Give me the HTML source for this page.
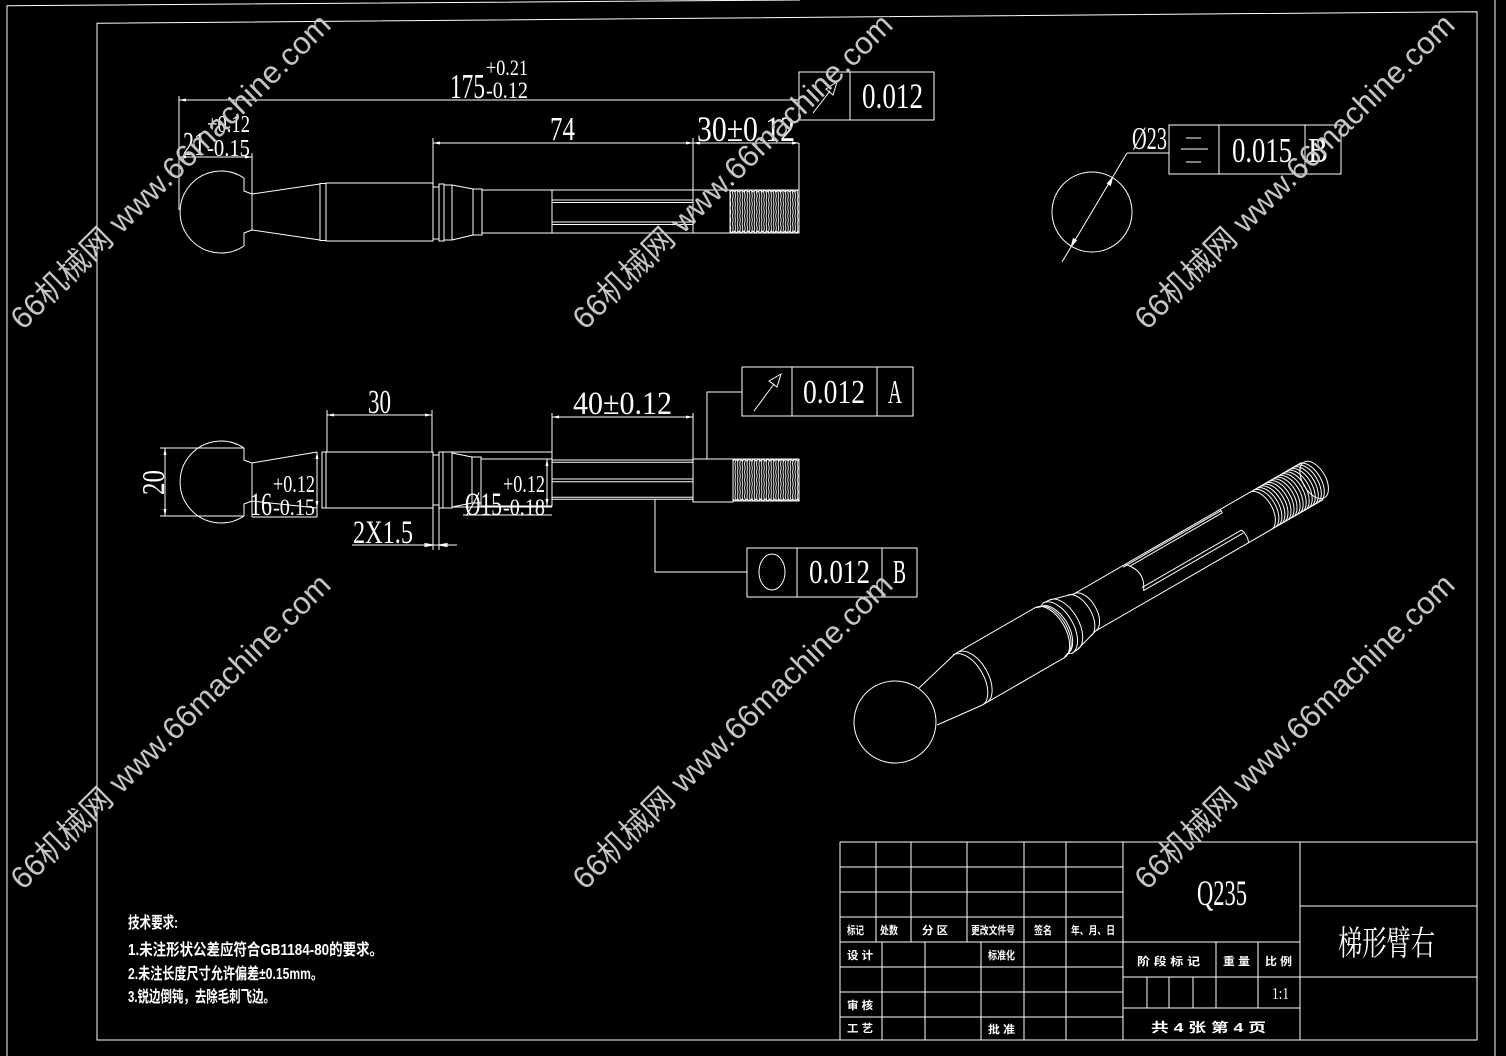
<!DOCTYPE html>
<html><head><meta charset="utf-8">
<style>
html,body{margin:0;padding:0;background:#000;}
svg{display:block;}
.t{fill:#fff;font-family:"Liberation Serif","Noto Serif CJK SC",serif;}
.c{fill:#fff;font-family:"Liberation Sans","Noto Sans CJK SC",sans-serif;font-weight:bold;}
.w{fill:#c4c4c4;font-family:"Liberation Sans","Noto Sans CJK SC",sans-serif;}
</style></head><body>
<svg width="1506" height="1056" viewBox="0 0 1506 1056" xmlns="http://www.w3.org/2000/svg">
<defs>
<marker id="ar" markerWidth="9" markerHeight="5" refX="7" refY="2.5" orient="auto-start-reverse" markerUnits="userSpaceOnUse"><path d="M0,1 L7,2.5 L0,4 z" fill="#fff"/></marker>
<pattern id="th" width="2.4" height="8" patternUnits="userSpaceOnUse"><path d="M0.5,0 L1.2,4 L0.5,8" stroke="#fff" stroke-width="0.9" fill="none"/></pattern>
</defs>
<rect width="1506" height="1056" fill="#000"/>
<g stroke="#fff" stroke-width="1" fill="none">
<polyline points="7,1056 7,5.7 800,0"/>
<line x1="1495" y1="0" x2="1495" y2="1056"/>
<polygon points="97,23.3 1477,11.7 1477,1040 97,1040"/>

<line x1="179" y1="100" x2="799" y2="100" marker-start="url(#ar)" marker-end="url(#ar)"/>
<line x1="179" y1="96" x2="179" y2="210"/>
<line x1="179" y1="157" x2="252" y2="157" marker-start="url(#ar)" marker-end="url(#ar)"/>
<line x1="252" y1="153" x2="252" y2="194"/>
<line x1="433" y1="143" x2="693" y2="143" marker-start="url(#ar)" marker-end="url(#ar)"/>
<line x1="693" y1="143" x2="799" y2="143" marker-start="url(#ar)" marker-end="url(#ar)"/>
<line x1="433" y1="138" x2="433" y2="183"/>
<line x1="693" y1="138" x2="693" y2="233"/>
<line x1="799" y1="143" x2="799" y2="190"/>
<rect x="799" y="72" width="135" height="48"/>
<line x1="850" y1="72" x2="850" y2="120"/>
<line x1="813" y1="113" x2="830" y2="91"/>
<path d="M837,82 L826,89 L833,95 z"/>
<path d="M244,178 A41,41 0 1,0 244,246"/>
<path d="M244,178 L244,191 L252,194 L252,230 L244,233 L244,246"/>
<line x1="252" y1="194" x2="320" y2="184"/>
<line x1="252" y1="230" x2="320" y2="240"/>
<rect x="320" y="183.5" width="6" height="57"/>
<rect x="326" y="183" width="107" height="58"/>
<rect x="433" y="187" width="6" height="52"/>
<rect x="439" y="184" width="5" height="57"/>
<rect x="444" y="185" width="8" height="55"/>
<line x1="452" y1="185" x2="473" y2="189"/>
<line x1="452" y1="240" x2="473" y2="235"/>
<rect x="473" y="189" width="9" height="46"/>
<line x1="482" y1="190" x2="730" y2="190"/>
<line x1="482" y1="233" x2="730" y2="233"/>
<line x1="482" y1="190" x2="482" y2="233"/>
<line x1="552" y1="190" x2="552" y2="233"/>
<line x1="552" y1="200" x2="693" y2="200"/>
<line x1="552" y1="202.5" x2="693" y2="202.5"/>
<line x1="552" y1="222" x2="693" y2="222"/>
<line x1="552" y1="224.5" x2="693" y2="224.5"/>
<rect x="730" y="190" width="69" height="43" fill="url(#th)"/>
<path d="M730,192 l2.3,-2 l2.3,2 l2.3,-2 l2.3,2 l2.3,-2 l2.3,2 l2.3,-2 l2.3,2 l2.3,-2 l2.3,2 l2.3,-2 l2.3,2 l2.3,-2 l2.3,2 l2.3,-2 l2.3,2 l2.3,-2 l2.3,2 l2.3,-2 l2.3,2 l2.3,-2 l2.3,2 l2.3,-2 l2.3,2 l2.3,-2 l2.3,2 l2.3,-2 l2.3,2 l2.3,-2"/>
<path d="M730,231 l2.3,2 l2.3,-2 l2.3,2 l2.3,-2 l2.3,2 l2.3,-2 l2.3,2 l2.3,-2 l2.3,2 l2.3,-2 l2.3,2 l2.3,-2 l2.3,2 l2.3,-2 l2.3,2 l2.3,-2 l2.3,2 l2.3,-2 l2.3,2 l2.3,-2 l2.3,2 l2.3,-2 l2.3,2 l2.3,-2 l2.3,2 l2.3,-2 l2.3,2 l2.3,-2 l2.3,2 l2.3,-2"/>

<circle cx="1092" cy="212" r="40"/>
<line x1="1062" y1="262" x2="1127" y2="153"/>
<line x1="1127" y1="153" x2="1169" y2="153"/>
<path d="M1112.4,177.6 L1107.5,183.5 L1110.5,185.3 z" fill="#fff"/>
<path d="M1071.4,246.3 L1076.3,240.4 L1073.3,238.6 z" fill="#fff"/>
<rect x="1169" y="125" width="172" height="49"/>
<line x1="1219" y1="125" x2="1219" y2="174"/>
<line x1="1305" y1="125" x2="1305" y2="174"/>
<line x1="1186" y1="138" x2="1201" y2="138"/>
<line x1="1181" y1="149" x2="1208" y2="149"/>
<line x1="1186" y1="162" x2="1201" y2="162"/>

<path d="M244,448 A41,41 0 1,0 244,516"/>
<path d="M244,448 L244,460 L252,463 L252,517"/>
<path d="M244,516 L244,504 L252,501"/>
<line x1="160" y1="448" x2="244" y2="448"/>
<line x1="160" y1="516" x2="244" y2="516"/>
<line x1="165" y1="448" x2="165" y2="516" marker-start="url(#ar)" marker-end="url(#ar)"/>
<line x1="252" y1="463" x2="317" y2="452"/>
<line x1="252" y1="501" x2="317" y2="508"/>
<line x1="317" y1="452" x2="317" y2="508" marker-start="url(#ar)" marker-end="url(#ar)"/>
<line x1="317" y1="508" x2="317" y2="517"/>
<line x1="252" y1="517" x2="317" y2="517"/>
<rect x="322" y="452" width="4" height="56"/>
<rect x="326" y="452" width="107" height="56"/>
<line x1="327" y1="415" x2="432" y2="415" marker-start="url(#ar)" marker-end="url(#ar)"/>
<line x1="327" y1="410" x2="327" y2="452"/>
<line x1="432" y1="410" x2="432" y2="452"/>
<rect x="433" y="455" width="6" height="50"/>
<rect x="439" y="452" width="4" height="56"/>
<rect x="443" y="452" width="9" height="56"/>
<line x1="452" y1="452" x2="552" y2="452"/>
<line x1="452" y1="507" x2="552" y2="507"/>
<line x1="452" y1="453" x2="472" y2="457"/>
<line x1="452" y1="507" x2="472" y2="503"/>
<rect x="472" y="457" width="9" height="46"/>
<rect x="481" y="459" width="71" height="47"/>
<line x1="547" y1="459" x2="547" y2="506" marker-start="url(#ar)" marker-end="url(#ar)"/>
<line x1="463" y1="515" x2="552" y2="515"/>
<line x1="433" y1="505" x2="433" y2="550"/>
<line x1="439" y1="505" x2="439" y2="550"/>
<line x1="352" y1="545" x2="457" y2="545"/>
<path d="M433,545 L425,543.5 L425,546.5 z" fill="#fff"/>
<path d="M439,545 L447,543.5 L447,546.5 z" fill="#fff"/>
<line x1="552" y1="413" x2="552" y2="459"/>
<line x1="693" y1="413" x2="693" y2="459"/>
<line x1="552" y1="417" x2="693" y2="417" marker-start="url(#ar)" marker-end="url(#ar)"/>
<line x1="552" y1="460" x2="693" y2="460"/>
<line x1="552" y1="462.3" x2="693" y2="462.3"/>
<line x1="552" y1="479" x2="693" y2="479"/>
<line x1="552" y1="481.7" x2="693" y2="481.7"/>
<line x1="552" y1="497.3" x2="693" y2="497.3"/>
<line x1="552" y1="499.3" x2="693" y2="499.3"/>
<rect x="693" y="459" width="40" height="43"/>
<rect x="733" y="459" width="66" height="42" fill="url(#th)"/>
<path d="M733,461 l2.3,-2 l2.3,2 l2.3,-2 l2.3,2 l2.3,-2 l2.3,2 l2.3,-2 l2.3,2 l2.3,-2 l2.3,2 l2.3,-2 l2.3,2 l2.3,-2 l2.3,2 l2.3,-2 l2.3,2 l2.3,-2 l2.3,2 l2.3,-2 l2.3,2 l2.3,-2 l2.3,2 l2.3,-2 l2.3,2 l2.3,-2 l2.3,2 l2.3,-2 l2.3,2"/>
<path d="M733,499 l2.3,2 l2.3,-2 l2.3,2 l2.3,-2 l2.3,2 l2.3,-2 l2.3,2 l2.3,-2 l2.3,2 l2.3,-2 l2.3,2 l2.3,-2 l2.3,2 l2.3,-2 l2.3,2 l2.3,-2 l2.3,2 l2.3,-2 l2.3,2 l2.3,-2 l2.3,2 l2.3,-2 l2.3,2 l2.3,-2 l2.3,2 l2.3,-2 l2.3,2 l2.3,-2 l2.3,2"/>
<polyline points="707,459 707,392 742,392"/>
<rect x="742" y="367" width="171" height="49"/>
<line x1="792" y1="367" x2="792" y2="416"/>
<line x1="877" y1="367" x2="877" y2="416"/>
<line x1="754" y1="411" x2="774" y2="384"/>
<path d="M781,374 L769,381 L777,387 z"/>
<polyline points="655,499 655,572 747,572"/>
<rect x="747" y="548" width="170" height="49"/>
<line x1="797" y1="548" x2="797" y2="597"/>
<line x1="882" y1="548" x2="882" y2="597"/>
<ellipse cx="772" cy="572" rx="13" ry="18"/>

<g transform="translate(895,722) rotate(-30)">
<circle cx="0" cy="0" r="41"/>
<line x1="37.8" y1="-17.4" x2="86" y2="-29"/>
<line x1="34.9" y1="23.6" x2="84" y2="29"/>
<path d="M84,-29 A16,29 0 0 1 84,29"/>
<path d="M89,-29 A16,29 0 0 1 89,29"/>
<line x1="84" y1="-29" x2="178.5" y2="-29"/>
<line x1="84" y1="29" x2="178.5" y2="29"/>
<path d="M178.5,-29 L183.5,-27 L187.6,-29 L194,-28.5 L212,-23.5 L219,-21.5"/>
<path d="M178.5,29 L183.5,27 L187.6,29 L194,28.5 L212,23.5 L219,21.5"/>
<path d="M178.5,-29 A16,29 0 0 1 178.5,29"/>
<path d="M181,-28 A15.5,28 0 0 1 181,28"/>
<path d="M183.5,-27 A15,27 0 0 1 183.5,27"/>
<path d="M187.6,-29 A16,29 0 0 1 187.6,29"/>
<path d="M194,-28.5 A15.7,28.5 0 0 1 194,28.5"/>
<path d="M212,-23.5 A13,23.5 0 0 1 212,23.5"/>
<path d="M219,-21.5 A12,21.5 0 0 1 219,21.5"/>
<line x1="219" y1="-21.5" x2="426" y2="-21.5"/>
<line x1="219" y1="21.5" x2="426" y2="21.5"/>
<line x1="275" y1="-20" x2="388" y2="-20"/>
<line x1="281" y1="-17.5" x2="388" y2="-17.5"/>
<line x1="281" y1="7" x2="396" y2="7"/>
<line x1="281" y1="10.5" x2="396" y2="10.5"/>
<path d="M278,-21.5 Q293,-6 281,10.5"/>
<path d="M388,-21.5 L388,-17.5"/>
<path d="M396,7 Q399,14 396,21.5"/>
<path d="M422,-21.5 A12,21.5 0 0 1 422,21.5"/>
<path d="M426,-21.5 A12,21.5 0 0 1 426,21.5"/>
<path d="M429.5,-21.5 A12,21.5 0 0 1 429.5,21.5"/>
<path d="M433,-21.5 A12,21.5 0 0 1 433,21.5"/>
<path d="M436.5,-21.5 A12,21.5 0 0 1 436.5,21.5"/>
<path d="M440,-21.5 A12,21.5 0 0 1 440,21.5"/>
<path d="M443.5,-21.5 A12,21.5 0 0 1 443.5,21.5"/>
<path d="M447,-21.5 A12,21.5 0 0 1 447,21.5"/>
<path d="M450.5,-21.5 A12,21.5 0 0 1 450.5,21.5"/>
<path d="M454,-21.5 A12,21.5 0 0 1 454,21.5"/>
<path d="M457.5,-21.5 A12,21.5 0 0 1 457.5,21.5"/>
<path d="M461,-21.5 A12,21.5 0 0 1 461,21.5"/>
<path d="M464.5,-21.5 A12,21.5 0 0 1 464.5,21.5"/>
<path d="M468,-21.5 A12,21.5 0 0 1 468,21.5"/>
<path d="M471.5,-21.5 A12,21.5 0 0 1 471.5,21.5"/>
<path d="M475,-21.5 A12,21.5 0 0 1 475,21.5"/>
<path d="M478.5,-21.5 A12,21.5 0 0 1 478.5,21.5"/>
<line x1="426" y1="-21.5" x2="482" y2="-21.5"/>
<line x1="426" y1="21.5" x2="482" y2="21.5"/>
<ellipse cx="484" cy="0" rx="11.5" ry="20.5"/>
</g>

<line x1="840" y1="842" x2="1477" y2="842"/>
<line x1="840" y1="842" x2="840" y2="1040"/>
<line x1="1123" y1="842" x2="1123" y2="1040"/>
<line x1="1300" y1="842" x2="1300" y2="1040"/>
<line x1="840" y1="867" x2="1123" y2="867"/>
<line x1="840" y1="892" x2="1123" y2="892"/>
<line x1="840" y1="917" x2="1123" y2="917"/>
<line x1="840" y1="942" x2="1300" y2="942"/>
<line x1="840" y1="967" x2="1123" y2="967"/>
<line x1="840" y1="992" x2="1123" y2="992"/>
<line x1="840" y1="1017" x2="1123" y2="1017"/>
<line x1="876" y1="842" x2="876" y2="942"/>
<line x1="911" y1="842" x2="911" y2="942"/>
<line x1="967" y1="842" x2="967" y2="942"/>
<line x1="1024" y1="842" x2="1024" y2="1040"/>
<line x1="1066" y1="842" x2="1066" y2="1040"/>
<line x1="882" y1="942" x2="882" y2="1040"/>
<line x1="925" y1="942" x2="925" y2="1040"/>
<line x1="981" y1="942" x2="981" y2="1040"/>
<line x1="1123" y1="977" x2="1300" y2="977"/>
<line x1="1123" y1="1008" x2="1300" y2="1008"/>
<line x1="1216" y1="942" x2="1216" y2="1008"/>
<line x1="1258" y1="942" x2="1258" y2="1008"/>
<line x1="1147" y1="977" x2="1147" y2="1008"/>
<line x1="1169" y1="977" x2="1169" y2="1008"/>
<line x1="1193" y1="977" x2="1193" y2="1008"/>
<line x1="1300" y1="906" x2="1477" y2="906"/>
<line x1="1300" y1="977" x2="1477" y2="977"/>
</g>

<g>
<text class="t" x="450" y="98" font-size="35" textLength="35" lengthAdjust="spacingAndGlyphs">175</text>
<text class="t" x="486" y="75" font-size="22" textLength="42" lengthAdjust="spacingAndGlyphs">+0.21</text>
<text class="t" x="486" y="98" font-size="23" textLength="42" lengthAdjust="spacingAndGlyphs">-0.12</text>
<text class="t" x="183" y="155" font-size="34" textLength="22" lengthAdjust="spacingAndGlyphs">21</text>
<text class="t" x="207" y="132" font-size="24" textLength="43" lengthAdjust="spacingAndGlyphs">+0.12</text>
<text class="t" x="207" y="156" font-size="24" textLength="43" lengthAdjust="spacingAndGlyphs">-0.15</text>
<text class="t" x="550" y="140" font-size="34" textLength="25" lengthAdjust="spacingAndGlyphs">74</text>
<text class="t" x="697" y="141" font-size="36" textLength="98" lengthAdjust="spacingAndGlyphs">30±0.12</text>
<text class="t" x="862" y="108" font-size="36" textLength="61" lengthAdjust="spacingAndGlyphs">0.012</text>
<text class="t" x="1132" y="149" font-size="32" textLength="35" lengthAdjust="spacingAndGlyphs">Ø23</text>
<text class="t" x="1232" y="162" font-size="35" textLength="60" lengthAdjust="spacingAndGlyphs">0.015</text>
<text class="t" x="1308" y="162" font-size="35" textLength="20" lengthAdjust="spacingAndGlyphs">B</text>
<text class="t" x="368" y="413" font-size="34" textLength="23" lengthAdjust="spacingAndGlyphs">30</text>
<text class="t" transform="translate(164,495) rotate(-90)" x="0" y="0" font-size="32" textLength="25" lengthAdjust="spacingAndGlyphs">20</text>
<text class="t" x="250" y="515" font-size="33" textLength="22" lengthAdjust="spacingAndGlyphs">16</text>
<text class="t" x="273" y="492" font-size="24" textLength="42" lengthAdjust="spacingAndGlyphs">+0.12</text>
<text class="t" x="273" y="515" font-size="23" textLength="42" lengthAdjust="spacingAndGlyphs">-0.15</text>
<text class="t" x="353" y="543" font-size="33" textLength="60" lengthAdjust="spacingAndGlyphs">2X1.5</text>
<text class="t" x="465" y="515" font-size="33" textLength="37" lengthAdjust="spacingAndGlyphs">Ø15</text>
<text class="t" x="503" y="492" font-size="24" textLength="42" lengthAdjust="spacingAndGlyphs">+0.12</text>
<text class="t" x="503" y="515" font-size="23" textLength="42" lengthAdjust="spacingAndGlyphs">-0.18</text>
<text class="t" x="573" y="414" font-size="33" textLength="99" lengthAdjust="spacingAndGlyphs">40±0.12</text>
<text class="t" x="803" y="403" font-size="34" textLength="62" lengthAdjust="spacingAndGlyphs">0.012</text>
<text class="t" x="888" y="403" font-size="34" textLength="14" lengthAdjust="spacingAndGlyphs">A</text>
<text class="t" x="809" y="583" font-size="34" textLength="61" lengthAdjust="spacingAndGlyphs">0.012</text>
<text class="t" x="893" y="583" font-size="34" textLength="13" lengthAdjust="spacingAndGlyphs">B</text>
<text class="t" x="1197" y="905" font-size="36" textLength="50" lengthAdjust="spacingAndGlyphs">Q235</text>
<text class="t" x="1338" y="955" font-size="34" textLength="97" lengthAdjust="spacingAndGlyphs">梯形臂右</text>
<text class="t" x="1272" y="999" font-size="17" textLength="17" lengthAdjust="spacingAndGlyphs">1:1</text>

<text class="c" x="128" y="928" font-size="16" textLength="50" lengthAdjust="spacingAndGlyphs">技术要求:</text>
<text class="c" x="128" y="955" font-size="16" textLength="255" lengthAdjust="spacingAndGlyphs">1.未注形状公差应符合GB1184-80的要求。</text>
<text class="c" x="128" y="979" font-size="16" textLength="195" lengthAdjust="spacingAndGlyphs">2.未注长度尺寸允许偏差±0.15mm。</text>
<text class="c" x="128" y="1002" font-size="16" textLength="147" lengthAdjust="spacingAndGlyphs">3.锐边倒钝，去除毛刺飞边。</text>

<text class="c" x="847" y="934" font-size="11" textLength="17" lengthAdjust="spacingAndGlyphs">标记</text>
<text class="c" x="880" y="934" font-size="11" textLength="18" lengthAdjust="spacingAndGlyphs">处数</text>
<text class="c" x="922" y="934" font-size="11" textLength="26" lengthAdjust="spacingAndGlyphs">分 区</text>
<text class="c" x="971" y="934" font-size="11" textLength="44" lengthAdjust="spacingAndGlyphs">更改文件号</text>
<text class="c" x="1034" y="934" font-size="11" textLength="18" lengthAdjust="spacingAndGlyphs">签名</text>
<text class="c" x="1071" y="934" font-size="11" textLength="44" lengthAdjust="spacingAndGlyphs">年、月、日</text>
<text class="c" x="847" y="959" font-size="11" textLength="26" lengthAdjust="spacingAndGlyphs">设 计</text>
<text class="c" x="988" y="959" font-size="11" textLength="27" lengthAdjust="spacingAndGlyphs">标准化</text>
<text class="c" x="847" y="1009" font-size="11" textLength="26" lengthAdjust="spacingAndGlyphs">审 核</text>
<text class="c" x="847" y="1032" font-size="11" textLength="26" lengthAdjust="spacingAndGlyphs">工 艺</text>
<text class="c" x="988" y="1033" font-size="11" textLength="27" lengthAdjust="spacingAndGlyphs">批 准</text>
<text class="c" x="1137" y="965" font-size="11" textLength="63" lengthAdjust="spacingAndGlyphs">阶 段 标 记</text>
<text class="c" x="1223" y="965" font-size="11" textLength="27" lengthAdjust="spacingAndGlyphs">重 量</text>
<text class="c" x="1265" y="965" font-size="11" textLength="27" lengthAdjust="spacingAndGlyphs">比 例</text>
<text class="c" x="1151" y="1032" font-size="13" textLength="115" lengthAdjust="spacingAndGlyphs">共 4 张    第 4 页</text>
</g>

<g>
<text class="w" transform="translate(23,331) rotate(-44.5)" x="0" y="0" font-size="31" textLength="434" lengthAdjust="spacingAndGlyphs">66机械网 www.66machine.com</text>
<text class="w" transform="translate(585,331) rotate(-44.5)" x="0" y="0" font-size="31" textLength="434" lengthAdjust="spacingAndGlyphs">66机械网 www.66machine.com</text>
<text class="w" transform="translate(1147,331) rotate(-44.5)" x="0" y="0" font-size="31" textLength="434" lengthAdjust="spacingAndGlyphs">66机械网 www.66machine.com</text>
<text class="w" transform="translate(23,891) rotate(-44.5)" x="0" y="0" font-size="31" textLength="434" lengthAdjust="spacingAndGlyphs">66机械网 www.66machine.com</text>
<text class="w" transform="translate(585,891) rotate(-44.5)" x="0" y="0" font-size="31" textLength="434" lengthAdjust="spacingAndGlyphs">66机械网 www.66machine.com</text>
<text class="w" transform="translate(1147,891) rotate(-44.5)" x="0" y="0" font-size="31" textLength="434" lengthAdjust="spacingAndGlyphs">66机械网 www.66machine.com</text>
</g>
</svg>
</body></html>
